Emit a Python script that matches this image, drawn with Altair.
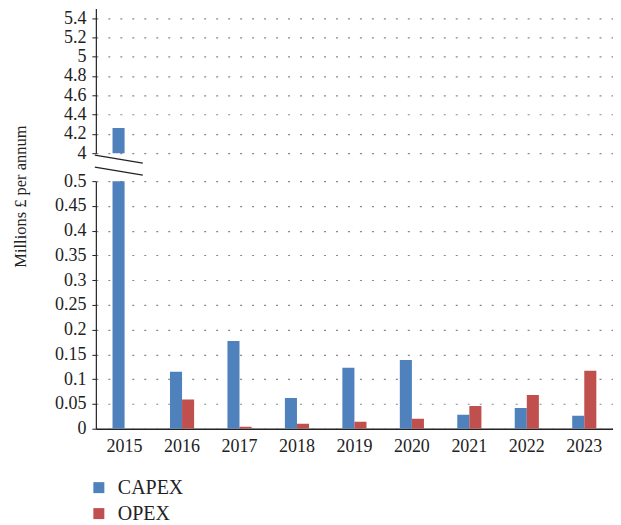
import altair as alt
import pandas as pd

years = ["2015", "2016", "2017", "2018", "2019", "2020", "2021", "2022", "2023"]
capex = [4.26, 0.115, 0.177, 0.062, 0.123, 0.139, 0.028, 0.042, 0.026]
opex = [0.0, 0.059, 0.004, 0.010, 0.014, 0.020, 0.046, 0.068, 0.117]
series = ["CAPEX", "OPEX"]
colors = ["#4F81BD", "#C0504D"]
upper_ticks = [4.0, 4.2, 4.4, 4.6, 4.8, 5.0, 5.2, 5.4]
lower_ticks = [0, 0.05, 0.1, 0.15, 0.2, 0.25, 0.3, 0.35, 0.4, 0.45, 0.5]

rows = []
for i, y in enumerate(years):
    rows.append({"year": y, "series": "CAPEX", "value": capex[i]})
    rows.append({"year": y, "series": "OPEX", "value": opex[i]})
df = pd.DataFrame(rows)

FONT = "Liberation Serif"
W = 518

xscale = alt.Scale(paddingInner=0.58, paddingOuter=0.29)
color = alt.Color("series:N", scale=alt.Scale(domain=series, range=colors),
                  legend=alt.Legend(title=None, orient="none", legendX=-7, legendY=470,
                                    direction="vertical",
                                    symbolType="square", symbolSize=121,
                                    labelFontSize=20, labelFont=FONT, labelColor="#222",
                                    rowPadding=6, labelOffset=9,
                                    symbolStrokeWidth=0))
xoff = alt.XOffset("series:N", sort=series, scale=alt.Scale(paddingInner=0, paddingOuter=0))

upper = alt.Chart(df).mark_bar(clip=True).encode(
    x=alt.X("year:N", scale=xscale, axis=None, sort=years),
    xOffset=xoff,
    y=alt.Y("value:Q", scale=alt.Scale(domain=[4, 5.5], zero=False, nice=False),
            axis=alt.Axis(values=upper_ticks, format="~g", title=None)),
    color=color,
).properties(width=W, height=145)

bars_lower = alt.Chart(df).mark_bar(clip=True).encode(
    x=alt.X("year:N", scale=xscale, sort=years,
            axis=alt.Axis(title=None, labelAngle=0, ticks=False, labelPadding=9,
                          domainColor="#222", domainWidth=1.5)),
    xOffset=xoff,
    y=alt.Y("value:Q", scale=alt.Scale(domain=[0, 0.5], nice=False),
            axis=alt.Axis(values=lower_ticks, format="~g",
                          title="Millions £ per annum", titleY=15, titleX=-67,
                          titleFontSize=16.5, titleFont=FONT, titleFontWeight="normal",
                          titleColor="#222")),
    color=color,
)

one = pd.DataFrame({"k": [0]})
break1 = alt.Chart(one).mark_rule(color="#222", strokeWidth=1.2).encode(
    x=alt.value(-1), x2=alt.value(47), y=alt.value(-26), y2=alt.value(-18))
break2 = alt.Chart(one).mark_rule(color="#222", strokeWidth=1.2).encode(
    x=alt.value(-1), x2=alt.value(47), y=alt.value(-14), y2=alt.value(-6))

lower = alt.layer(bars_lower, break1, break2).properties(width=W, height=248)

chart = alt.vconcat(upper, lower, spacing=28, bounds="flush").properties(
    padding={"left": 4, "top": 0, "right": 0, "bottom": 0}
).configure_view(stroke=None).configure_axis(
    labelFont=FONT, labelFontSize=18, labelColor="#222",
    domainColor="#222", domainWidth=1.2,
    tickColor="#222", tickSize=4, tickWidth=1,
    grid=True, gridColor="#888", gridDash=[2, 10], gridWidth=1.2,
    labelPadding=6,
).configure_axisX(grid=False)

chart.save("out.html", embed_options={"renderer": "svg", "actions": False})
